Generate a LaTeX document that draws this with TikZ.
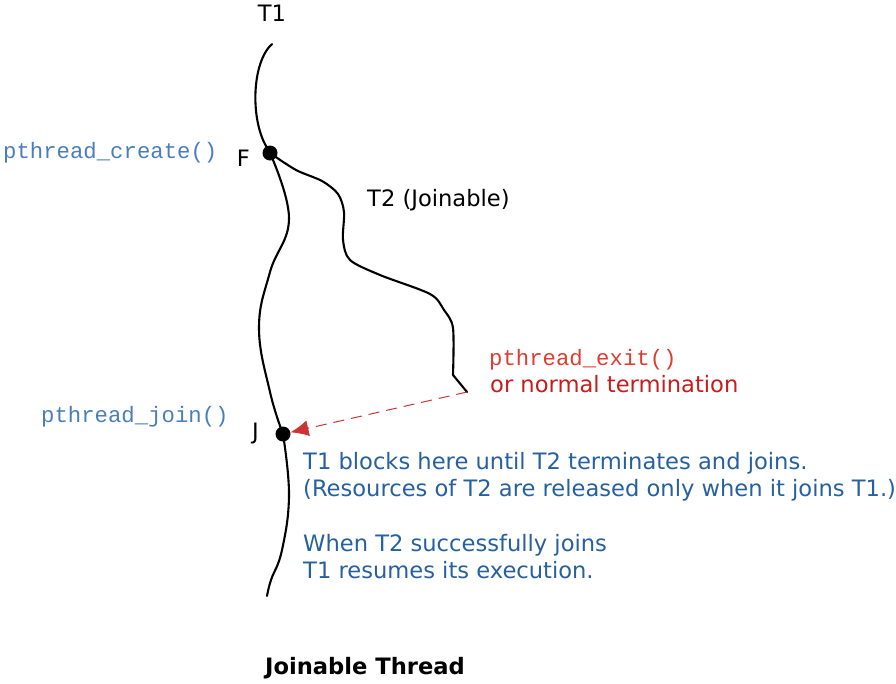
\documentclass[tikz,border=0pt]{standalone}
\usepackage{fontspec}
\setmainfont{DejaVu Sans}
\newfontfamily\codefont{Liberation Mono}
\usetikzlibrary{arrows.meta}
\definecolor{codeblue}{RGB}{74,126,187}
\definecolor{txtblue}{RGB}{38,96,160}
\definecolor{codered}{RGB}{222,60,50}
\definecolor{txtred}{RGB}{200,28,28}
\begin{document}
\begin{tikzpicture}[x=1pt,y=-1pt,
  thread/.style={line width=2.1pt,line cap=round,line join=round},
  event/.style={circle,fill=black,inner sep=0pt,minimum size=15pt},
  lbl/.style={font=\fontsize{22.6}{27}\selectfont,inner sep=0pt},
  code/.style={font=\codefont\fontsize{22.3}{27}\selectfont,inner sep=0pt},
  note/.style={lbl,text=txtblue,align=left,anchor=base west}]
\useasboundingbox (0,0) rectangle (896,683);
% event points
\node[event] (F) at (270,153) {};
\node[event] (J) at (283,434) {};
\coordinate (t1s) at (272,44);
\coordinate (t1e) at (267,596);
\coordinate (t2e) at (467,392);
% thread T1
\draw[thread] (t1s) .. controls (252,62) and (250,118) .. (F);
\draw[thread] plot[smooth,tension=0.7] coordinates {(F) (289,218) (270,272) (259,328) (270,392) (J)};
\draw[thread] plot[smooth,tension=0.7] coordinates {(J) (289,495) (282,550) (271,580) (t1e)};
% thread T2
\draw[thread] plot[smooth,tension=0.5] coordinates {(F) (296,170) (322,181) (338,194) (344,212) (343,240) (350,260) (380,275) (430,294) (444,310) (453,328) (453,375)} -- (t2e);
% termination to join
\draw[txtred!90!white,line width=1pt,dash pattern=on 11pt off 7pt,-{Latex[length=18pt,width=16pt]}] (t2e) -- (J);
% labels
\node[lbl,anchor=base] (T1) at (272,21) {T1};
\node[lbl,anchor=base east] (Fl) at (250,166) {F};
\node[lbl,anchor=base east] (Jl) at (259,439) {J};
\node[lbl,anchor=base west] (T2) at (367,206) {T2 (Joinable)};
\node[code,anchor=base west,text=codeblue] (cr) at (3,158) {pthread\_create()};
\node[code,anchor=base west,text=codeblue] (jn) at (41,422) {pthread\_join()};
\node[code,anchor=base west,text=codered] (ex) at (489,365) {pthread\_exit()};
\node[lbl,anchor=base west,text=txtred] (nt) at (490,392) {or normal termination};
\node[note] (n1) at (303,469) {T1 blocks here until T2 terminates and joins.};
\node[note] (n2) at (303,496) {(Resources of T2 are released only when it joins T1.)};
\node[note] (n3) at (303,551) {When T2 successfully joins};
\node[note] (n4) at (303,578) {T1 resumes its execution.};
\node[lbl,anchor=base west,font=\fontsize{22.6}{27}\selectfont\bfseries] (title) at (265,674) {Joinable Thread};
\end{tikzpicture}
\end{document}
